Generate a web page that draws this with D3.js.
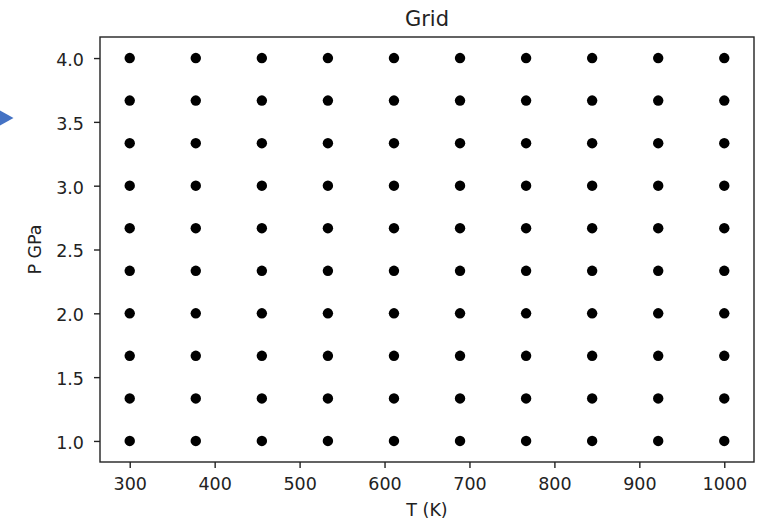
<!DOCTYPE html>
<html>
<head>
<meta charset="utf-8">
<script src="https://cdn.jsdelivr.net/npm/d3@7"></script>
<style>
  html, body { margin: 0; padding: 0; background: #fff; }
  svg { display: block; }
  text { font-family: "DejaVu Sans", sans-serif; fill: #222; }
</style>
</head>
<body>
<svg id="chart" width="759" height="525"></svg>
<script>
// Data
const temperatures = [300, 377.78, 455.56, 533.33, 611.11, 688.89, 766.67, 844.44, 922.22, 1000];
const pressures = [1.0, 1.333, 1.667, 2.0, 2.333, 2.667, 3.0, 3.333, 3.667, 4.0];
const xTicks = [300, 400, 500, 600, 700, 800, 900, 1000];
const yTicks = [1.0, 1.5, 2.0, 2.5, 3.0, 3.5, 4.0];
const titleText = "Grid";
const xLabel = "T (K)";
const yLabel = "P GPa";

const points = [];
temperatures.forEach(t => pressures.forEach(p => points.push({t, p})));

const svg = d3.select("#chart");
const plotL = 100, plotR = 754, plotT = 37, plotB = 462;

const x = d3.scaleLinear().domain([265, 1035]).range([plotL, plotR]);
const y = d3.scaleLinear().domain([0.835, 4.165]).range([plotB, plotT]);

// stray blue arrow marker at left edge
svg.append("path")
  .attr("d", "M0,110.5 L13.5,118 L0,125.5 Z")
  .attr("fill", "#4472C4");

// points
svg.append("g").selectAll("circle")
  .data(points)
  .enter().append("circle")
  .attr("cx", d => x(d.t))
  .attr("cy", d => y(d.p))
  .attr("r", 5.2)
  .attr("fill", "#000");

// axes
const xAxis = d3.axisBottom(x).tickValues(xTicks).tickFormat(d3.format("d")).tickSize(6).tickPadding(10);
const yAxis = d3.axisLeft(y).tickValues(yTicks).tickFormat(d3.format(".1f")).tickSize(6).tickPadding(10);

const gx = svg.append("g").attr("transform", `translate(0,${plotB})`).call(xAxis);
const gy = svg.append("g").attr("transform", `translate(${plotL},0)`).call(yAxis);
[gx, gy].forEach(g => {
  g.select(".domain").remove();
  g.selectAll(".tick line").attr("stroke", "#222").attr("stroke-width", 1.4);
  g.selectAll(".tick text").attr("font-size", 17.5).attr("font-family", "DejaVu Sans, sans-serif").attr("fill", "#222");
});
gy.selectAll(".tick text").attr("dy", "0.42em");

// frame
svg.append("rect")
  .attr("x", plotL).attr("y", plotT)
  .attr("width", plotR - plotL).attr("height", plotB - plotT)
  .attr("fill", "none").attr("stroke", "#222").attr("stroke-width", 1.4);

// title & labels
svg.append("text").attr("x", (plotL + plotR) / 2).attr("y", 26)
  .attr("text-anchor", "middle").attr("font-size", 21).text(titleText);
svg.append("text").attr("x", (plotL + plotR) / 2).attr("y", 515.5)
  .attr("text-anchor", "middle").attr("font-size", 17.5).text(xLabel);
svg.append("text")
  .attr("transform", `translate(40.5,${(plotT + plotB) / 2}) rotate(-90)`)
  .attr("text-anchor", "middle").attr("font-size", 17.5).text(yLabel);
</script>
</body>
</html>
